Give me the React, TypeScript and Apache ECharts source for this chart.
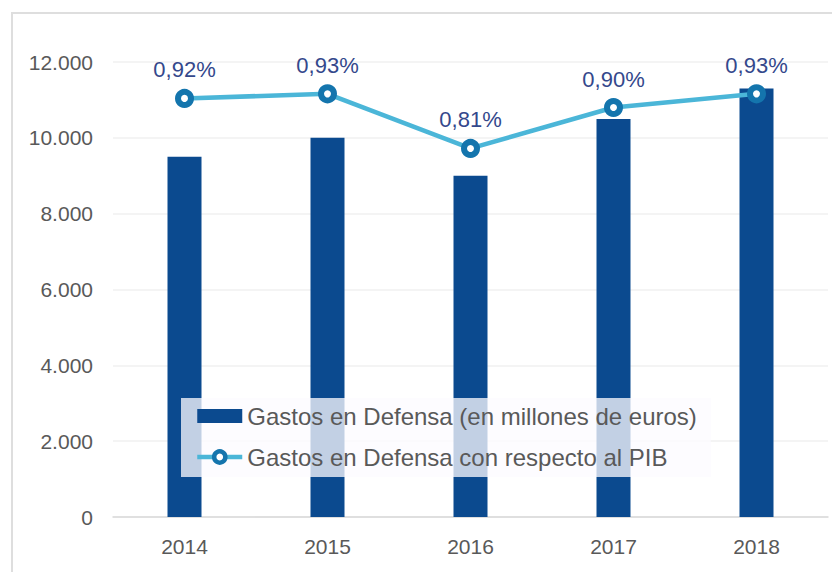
import React, { useEffect, useRef } from "react";
import * as echarts from "echarts";

const years = ["2014", "2015", "2016", "2017", "2018"];
const gastos = [9500, 10000, 9000, 10500, 11300];
const pib = [0.92, 0.93, 0.81, 0.9, 0.93];
const yTicks = { min: 0, max: 12000, interval: 2000 };
const barName = "Gastos en Defensa (en millones de euros)";
const lineName = "Gastos en Defensa con respecto al PIB";

const fmtThousands = (v: number) =>
  String(v).replace(/\B(?=(\d{3})+(?!\d))/g, ".");

export default function App() {
  const ref = useRef<HTMLDivElement>(null);
  useEffect(() => {
    if (!ref.current) return;
    const chart = echarts.init(ref.current, undefined, { renderer: "svg" });
    const font = "'Liberation Sans', Arial, sans-serif";
    chart.setOption({
      animation: false,
      textStyle: { fontFamily: font },
      graphic: [
        {
          type: "rect",
          shape: { x: 12, y: 13, width: 900, height: 700 },
          style: { fill: "none", stroke: "#dedede", lineWidth: 2 },
          z: -1,
          silent: true,
        },
      ],
      grid: { left: 113, right: 4, top: 62, bottom: 55 },
      legend: {
        orient: "vertical",
        left: 181,
        top: 398,
        padding: [6, 14, 8, 14],
        itemGap: 17,
        itemWidth: 45,
        itemHeight: 14,
        backgroundColor: "rgba(253,251,255,0.76)",
        textStyle: { fontSize: 24, color: "#595959", fontFamily: font },
        data: [
          { name: barName, icon: "rect", itemStyle: { color: "#0b4a8f" } },
          {
            name: lineName,
            lineStyle: { width: 4.5, color: "#4bb6d8" },
            itemStyle: { color: "#ffffff", borderColor: "#1475ad", borderWidth: 4.5 },
          },
        ],
        z: 10,
      },
      xAxis: {
        type: "category",
        data: years,
        axisLine: { lineStyle: { color: "#d9d9d9", width: 1.5 } },
        axisTick: { show: false },
        axisLabel: { color: "#595959", fontSize: 21, margin: 19, fontFamily: font },
      },
      yAxis: [
        {
          type: "value",
          min: yTicks.min,
          max: yTicks.max,
          interval: yTicks.interval,
          axisLine: { show: false },
          axisTick: { show: false },
          splitLine: { lineStyle: { color: "#f0f0f0", width: 1.5 } },
          axisLabel: {
            color: "#595959",
            fontSize: 21,
            margin: 20,
            fontFamily: font,
            formatter: (v: number) => fmtThousands(v),
          },
        },
        { type: "value", min: 0, max: 1, show: false, splitLine: { show: false } },
      ],
      series: [
        {
          name: barName,
          type: "bar",
          data: gastos,
          barWidth: 34,
          itemStyle: { color: "#0b4a8f" },
          z: 2,
        },
        {
          name: lineName,
          type: "line",
          yAxisIndex: 1,
          data: pib,
          symbol: "circle",
          symbolSize: 13,
          lineStyle: { color: "#4bb6d8", width: 4.5 },
          itemStyle: { color: "#ffffff", borderColor: "#1475ad", borderWidth: 6 },
          label: {
            show: true,
            position: "top",
            distance: 8,
            fontSize: 22,
            color: "#34488c",
            fontFamily: font,
            formatter: (p: any) => p.value.toFixed(2).replace(".", ",") + "%",
          },
          z: 3,
        },
      ],
    });
    return () => chart.dispose();
  }, []);
  return (
    <div
      ref={ref}
      style={{ position: "absolute", left: 0, top: 0, width: 832, height: 572, background: "#fff" }}
    />
  );
}
